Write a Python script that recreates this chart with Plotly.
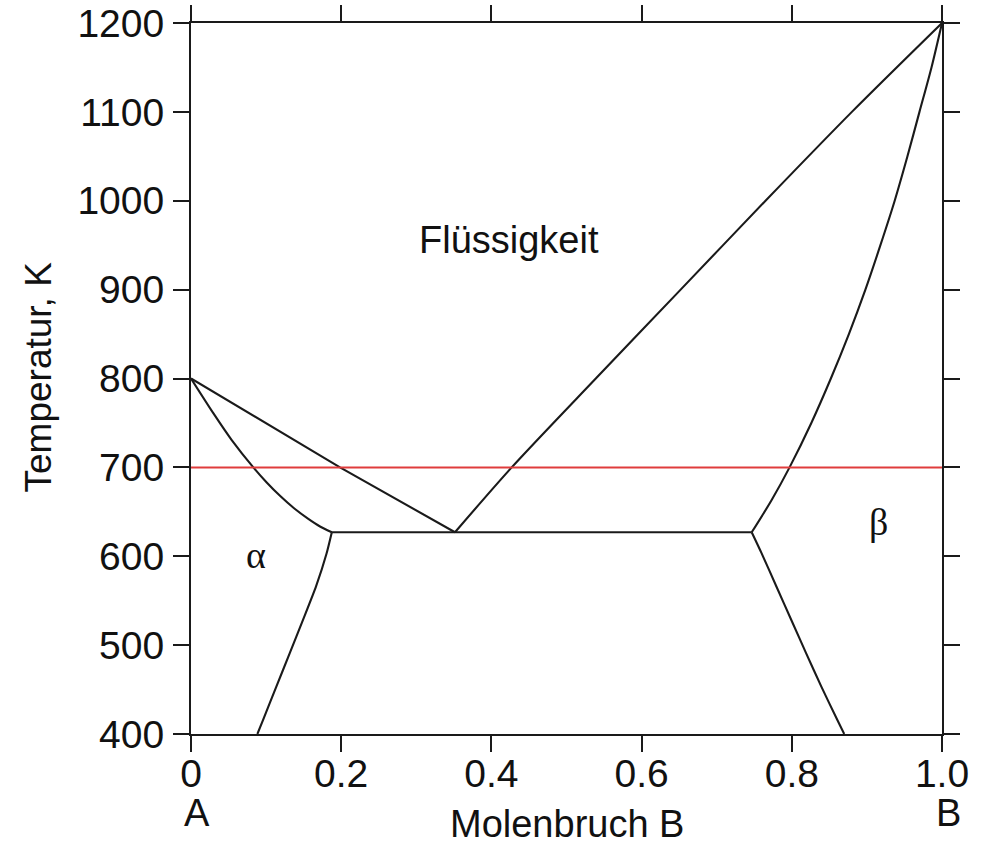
import plotly.graph_objects as go

# Phase diagram A-B: eutectic system with limited solid solubility
x_ticks = [0, 0.2, 0.4, 0.6, 0.8, 1.0]
x_tick_text = ["0", "0.2", "0.4", "0.6", "0.8", "1.0"]
y_ticks = [400, 500, 600, 700, 800, 900, 1000, 1100, 1200]

T_eutectic = 627
x_alpha_max = 0.1875
x_eutectic = 0.3515
x_beta_min = 0.7466

# liquidus, A-rich side
liq_a_x = [0.0, 0.1984, x_eutectic]
liq_a_T = [800, 700, T_eutectic]

# liquidus, B-rich side
liq_b_x = [x_eutectic, 0.427, 0.539, 0.652, 0.765, 0.880, 1.0]
liq_b_T = [T_eutectic, 700, 800, 900, 1000, 1100, 1200]

# solidus of alpha
sol_a_x = [0.0, 0.0297, 0.054, 0.083, 0.1008, 0.1185, 0.1372, 0.1562, 0.1718, x_alpha_max]
sol_a_T = [800, 761, 731, 700, 683, 668, 654, 642, 633.5, T_eutectic]

# solidus of beta
sol_b_x = [x_beta_min, 0.773, 0.797, 0.826, 0.852, 0.876, 0.898, 0.918, 0.937, 0.954, 0.970, 0.986, 1.0]
sol_b_T = [T_eutectic, 663, 700, 750, 800, 850, 900, 950, 1000, 1050, 1100, 1150, 1200]

# solvus of alpha
solv_a_x = [x_alpha_max, 0.1805, 0.1665, 0.149, 0.1315, 0.1135, 0.096, 0.0884]
solv_a_T = [T_eutectic, 603, 566, 528, 491, 453, 416, 400]

# solvus of beta
solv_b_x = [x_beta_min, 0.760, 0.7795, 0.7995, 0.819, 0.8395, 0.8605, 0.8698]
solv_b_T = [T_eutectic, 603, 566, 528, 491, 453, 416, 400]

# eutectic horizontal
eut_x = [x_alpha_max, x_beta_min]
eut_T = [T_eutectic, T_eutectic]

# isotherm at 700 K
iso_x = [0.0, 1.0]
iso_T = [700, 700]

SANS = "Liberation Sans, Arial, Helvetica, sans-serif"
SERIF = "Liberation Serif, Times New Roman, serif"
INK = "#1a1a1a"

fig = go.Figure()

curves = [
    (liq_a_x, liq_a_T, "linear", 0),
    (liq_b_x, liq_b_T, "spline", 0.8),
    (sol_a_x, sol_a_T, "spline", 0.5),
    (sol_b_x, sol_b_T, "spline", 0.8),
    (solv_a_x, solv_a_T, "spline", 0.6),
    (solv_b_x, solv_b_T, "spline", 0.5),
    (eut_x, eut_T, "linear", 0),
]
for xs, ts, shape, smooth in curves:
    line = dict(color=INK, width=2.1, shape=shape)
    if shape == "spline":
        line["smoothing"] = smooth
    fig.add_trace(go.Scatter(
        x=xs, y=ts, mode="lines", line=line,
        hoverinfo="skip", showlegend=False,
    ))

fig.add_trace(go.Scatter(
    x=iso_x, y=iso_T, mode="lines",
    line=dict(color="#e03c3c", width=2),
    hoverinfo="skip", showlegend=False,
))

axis_common = dict(
    showgrid=False, zeroline=False, automargin=False,
    showline=True, linecolor=INK, linewidth=2,
    mirror="ticks", ticks="outside", ticklen=16, tickwidth=2, tickcolor=INK,
    tickfont=dict(family=SANS, size=39, color="#111111"),
)

fig.update_xaxes(range=[0, 1], tickvals=x_ticks, ticktext=x_tick_text,
                 ticklabelstandoff=-12, **axis_common)
fig.update_yaxes(range=[400, 1200], tickvals=y_ticks, ticklabelstandoff=1, **axis_common)

annotations = [
    dict(x=0.4234, y=956, xref="x", yref="y", text="Flüssigkeit",
         font=dict(family=SANS, size=38, color="#111111")),
    dict(x=0.0866, y=601, xref="x", yref="y", text="α",
         font=dict(family=SERIF, size=38, color="#111111")),
    dict(x=0.916, y=638, xref="x", yref="y", text="β",
         font=dict(family=SERIF, size=38, color="#111111")),
    dict(x=0, y=0, xref="paper", yref="paper", text="A", xshift=6, yshift=-79,
         font=dict(family=SANS, size=38, color="#111111")),
    dict(x=1, y=0, xref="paper", yref="paper", text="B", xshift=6, yshift=-79,
         font=dict(family=SANS, size=38, color="#111111")),
    dict(x=0.5, y=0, xref="paper", yref="paper", text="Molenbruch B", yshift=-90,
         font=dict(family=SANS, size=38, color="#111111")),
    dict(x=0, y=0.5, xref="paper", yref="paper", text="Temperatur, K", textangle=-90,
         xshift=-153, yshift=1, font=dict(family=SANS, size=37, color="#111111")),
]
for a in annotations:
    a.update(showarrow=False, xanchor="center", yanchor="middle")
fig.update_layout(
    width=983, height=845,
    margin=dict(l=191, r=41, t=23, b=111),
    paper_bgcolor="white", plot_bgcolor="white",
    annotations=annotations,
)

fig.write_html("out.html")
